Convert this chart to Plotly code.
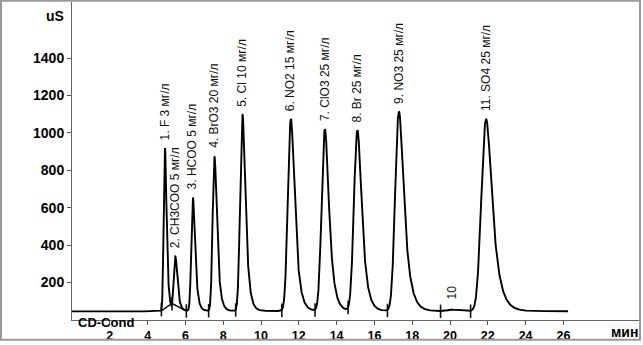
import math
import numpy as np
import plotly.graph_objects as go

# Peak table of the ion chromatogram (CD-Cond detector)
peak_labels = ["1. F 3 мг/л", "2. CH3COO 5 мг/л", "3. HCOO 5 мг/л", "4. BrO3 20 мг/л",
               "5. Cl 10 мг/л", "6. NO2 15 мг/л", "7. ClO3 25 мг/л", "8. Br 25 мг/л",
               "9. NO3 25 мг/л", "10", "11. SO4 25 мг/л"]
retention_min = [4.92, 5.47, 6.40, 7.54, 9.02, 11.58, 13.38, 15.10, 17.30, 20.10, 21.91]
apex_us = [920, 340, 655, 875, 1100, 1075, 1020, 1015, 1115, 56, 1075]
sigma_min = [0.055, 0.07, 0.07, 0.08, 0.10, 0.13, 0.14, 0.15, 0.16, 0.18, 0.20]
tail_min = [0.08, 0.10, 0.11, 0.13, 0.15, 0.20, 0.21, 0.22, 0.27, 0.20, 0.33]

# Detector baseline
baseline_t = [0.0, 3.30, 3.55, 3.80, 4.70, 26.25]
baseline_us = [46, 46, 42, 46, 49, 47]

# Integration boundaries (start/end marks)
bound_min = [4.73, 5.29, 6.05, 7.23, 8.66, 11.10, 12.86, 14.61, 16.69, 19.50, 21.09]

x_ticks = list(range(2, 27, 2))
y_ticks = list(range(200, 1401, 200))

t = np.arange(0.0, 26.25 + 1e-9, 0.004)
base = np.interp(t, baseline_t, baseline_us)
erfc = np.vectorize(math.erfc)


def emg_unit(tt, center, sigma, tau):
    """Exponentially modified Gaussian with its maximum (=1) at `center`."""
    u = np.arange(-2.0, 6.0, 0.002)
    z = (sigma / tau - u / sigma) / math.sqrt(2)
    f = np.exp(sigma ** 2 / (2 * tau ** 2) - u / tau) * erfc(z)
    f = f / f.max()
    u0 = u[np.argmax(f)]
    return np.interp(tt - center + u0, u, f, left=0.0, right=0.0)


shapes_unit = [emg_unit(t, c, s, k) for c, s, k in zip(retention_min, sigma_min, tail_min)]
idx_apex = [int(np.argmin(np.abs(t - c))) for c in retention_min]

# amplitudes so the summed trace reaches each stated apex height
amps = [h - base[i] for h, i in zip(apex_us, idx_apex)]
for _ in range(20):
    total = base + sum(a * s for a, s in zip(amps, shapes_unit))
    amps = [a + (h - total[i]) for a, h, i in zip(amps, apex_us, idx_apex)]
signal = base + sum(a * s for a, s in zip(amps, shapes_unit))

fig = go.Figure()

# integration baseline under the first two co-eluting peaks
tent_t = [bound_min[0], bound_min[1], bound_min[2]]
tent_v = list(np.interp(tent_t, t, signal))
tent_v[0] = float(np.interp(tent_t[0], baseline_t, baseline_us))
tent_v[2] = float(np.interp(tent_t[2], baseline_t, baseline_us))
fig.add_trace(go.Scatter(x=tent_t, y=tent_v, mode="lines",
                         line=dict(color="#111", width=1.5), hoverinfo="skip"))

# short vertical marks at the integration boundaries
mx, my = [], []
for b in bound_min:
    v = float(np.interp(b, t, signal))
    mx += [b, b, None]
    my += [v - 38, v + 34, None]
fig.add_trace(go.Scatter(x=mx, y=my, mode="lines",
                         line=dict(color="#111", width=1.6), hoverinfo="skip"))

fig.add_trace(go.Scatter(x=t, y=signal, mode="lines",
                         line=dict(color="#000", width=1.9), hoverinfo="skip"))

label_font = dict(family="Arial, Liberation Sans", size=12, color="#111")
for name, c, h in zip(peak_labels, retention_min, apex_us):
    fig.add_annotation(x=c, y=h, text=name, textangle=-90, showarrow=False,
                       xanchor="center", yanchor="bottom",
                       yshift=8 if h < 200 else 6, font=label_font)

bold = dict(family="Arial, Liberation Sans", size=14, color="#000", weight="bold")
fig.add_annotation(xref="paper", yref="paper", x=-0.011, y=0.955, text="uS",
                   showarrow=False, xanchor="right", yanchor="middle", font=bold)
fig.add_annotation(xref="paper", yref="paper", x=0.0085, y=0.019, text="CD-Cond",
                   showarrow=False, xanchor="left", yanchor="top", borderpad=0,
                   font=dict(bold, size=13))
fig.add_annotation(xref="paper", yref="paper", x=1.0018, y=-0.038, text="мин",
                   showarrow=False, xanchor="right", yanchor="middle", font=bold)

# outer frame
fig.add_shape(type="rect", xref="paper", yref="paper",
              x0=-0.1252, x1=1.0018, y0=-0.062, y1=1.004,
              line=dict(color="#9a9a9a", width=2), layer="above")

fig.update_layout(
    width=643, height=345,
    margin=dict(l=72, r=4, t=2, b=25, autoexpand=False),
    paper_bgcolor="white", plot_bgcolor="white",
    showlegend=False,
)
fig.update_xaxes(range=[0, 30], tickvals=x_ticks, ticks="outside", ticklen=4,
                 tickcolor="#555", showline=True, linecolor="#666", linewidth=1,
                 showgrid=False, zeroline=False,
                 automargin=False, tickfont=dict(bold, size=12.5))
fig.update_yaxes(range=[0, 1700], tickvals=y_ticks, ticks="outside", ticklen=4,
                 tickcolor="#555", showline=True, linecolor="#666", linewidth=1,
                 showgrid=False, zeroline=False, automargin=False, tickfont=bold)

fig.write_html("out.html")
